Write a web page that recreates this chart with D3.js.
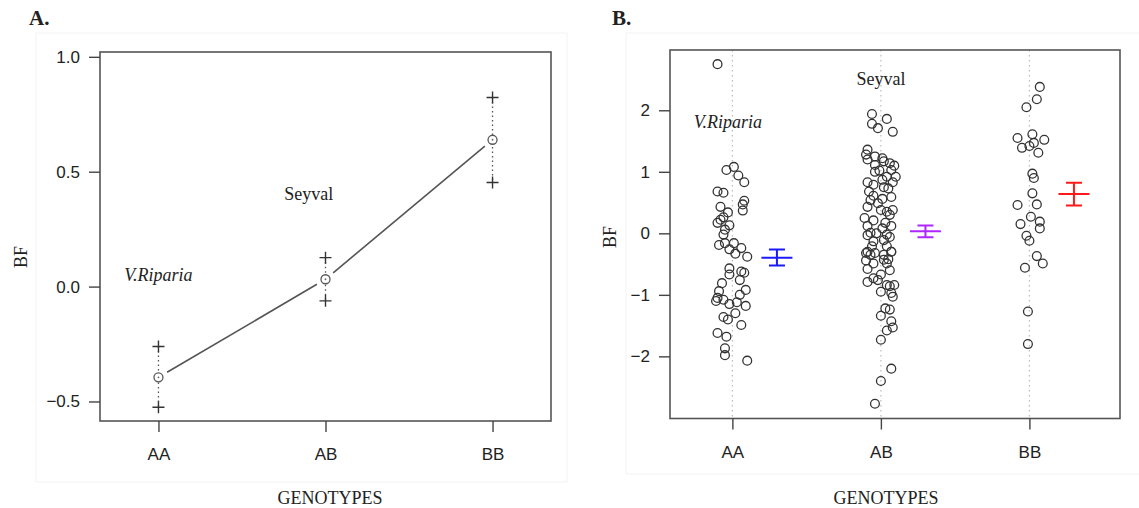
<!DOCTYPE html>
<html>
<head>
<meta charset="utf-8">
<script src="https://d3js.org/d3.v7.min.js"></script>
<style>
  body { margin: 0; background: #fff; }
  svg { display: block; }
  .tick text { font-family: "Liberation Sans", Arial, sans-serif; font-size: 17px; fill: #222; }
  .tick line { stroke: #444; stroke-width: 1.4; }
  .serif { font-family: "Liberation Serif", "Times New Roman", serif; fill: #222; }
</style>
</head>
<body>
<svg width="1139" height="508"></svg>
<script>
// genotype classes and the mean / interval
const genotypes = ["AA", "AB", "BB"];
const meanBF = [-0.395, 0.032, 0.639];
const upperBF = [-0.261, 0.126, 0.823];
const lowerBF = [-0.525, -0.062, 0.453];
const yTicksA = [-0.5, 0.0, 0.5, 1.0];
const yTicksB = [-2, -1, 0, 1, 2];
const barColors = ["#1a1aff", "#b026ff", "#ff1a1a"];

// panel B individual points: [jittered genotype position, BF]
const pointsAA = [
  [0.90, 2.75], [0.96, 1.03], [1.01, 1.08], [1.04, 0.94], [1.08, 0.83], [0.90, 0.68],
  [0.94, 0.66], [1.08, 0.53], [1.07, 0.47], [1.07, 0.37], [0.92, 0.43], [0.97, 0.34],
  [0.94, 0.26], [0.92, 0.22], [0.90, 0.17], [0.98, 0.13], [0.95, 0.06], [0.94, -0.02],
  [0.91, -0.19], [0.95, -0.16], [1.01, -0.16], [0.98, -0.26], [1.02, -0.33], [1.06, -0.24],
  [1.10, -0.38], [0.98, -0.57], [0.98, -0.67], [1.06, -0.62], [1.08, -0.64], [1.05, -0.76],
  [0.93, -0.81], [0.91, -0.94], [1.09, -0.92], [1.05, -1.00], [0.90, -1.05], [0.89, -1.10],
  [0.94, -1.08], [0.98, -1.15], [1.03, -1.12], [1.09, -1.18], [1.02, -1.30], [0.94, -1.36],
  [0.97, -1.40], [1.06, -1.49], [0.90, -1.62], [0.96, -1.68], [0.95, -1.87], [0.95, -1.98],
  [1.10, -2.07]
];
const pointsAB = [
  [1.94, 1.94], [2.04, 1.86], [1.94, 1.78], [1.98, 1.71], [2.08, 1.65],
  [1.91, 1.36], [1.90, 1.28], [1.91, 1.20], [1.96, 1.25], [2.01, 1.22], [2.02, 1.17],
  [1.96, 1.11], [2.06, 1.14], [2.09, 1.10], [2.07, 1.03], [1.96, 1.00], [1.99, 1.02],
  [2.10, 0.92], [2.04, 0.92], [2.01, 0.87], [1.91, 0.83], [1.95, 0.79], [2.08, 0.83],
  [2.05, 0.73], [2.02, 0.75], [1.92, 0.68], [1.95, 0.61], [2.07, 0.59], [2.01, 0.56],
  [1.93, 0.54], [1.98, 0.49], [1.91, 0.43], [2.08, 0.38], [2.04, 0.35], [2.06, 0.30],
  [2.00, 0.38], [1.89, 0.25], [1.95, 0.21], [2.03, 0.17], [2.07, 0.12], [1.91, 0.12],
  [2.01, 0.08], [1.93, 0.01], [1.97, 0.00], [2.04, -0.02], [1.91, -0.03], [2.06, -0.06],
  [1.95, -0.13], [2.02, -0.11], [1.94, -0.21], [2.04, -0.21], [2.07, -0.30], [1.90, -0.32],
  [1.93, -0.35], [2.02, -0.35], [2.05, -0.42], [1.91, -0.30], [1.96, -0.32], [2.07, -0.30],
  [1.90, -0.44], [1.95, -0.49], [2.02, -0.43], [2.04, -0.49], [1.91, -0.58], [2.00, -0.67],
  [2.06, -0.60], [1.95, -0.73], [1.98, -0.76], [1.91, -0.79], [2.04, -0.84], [2.06, -0.86],
  [2.09, -0.84], [2.00, -0.95], [2.08, -1.03], [2.07, -0.97], [2.03, -1.22], [2.06, -1.24],
  [2.00, -1.34], [2.07, -1.43], [2.08, -1.53], [2.04, -1.58], [2.00, -1.73], [2.07, -2.20],
  [2.00, -2.40], [1.96, -2.77]
];
const pointsBB = [
  [3.07, 2.38], [3.05, 2.18], [2.98, 2.05], [2.92, 1.55], [3.02, 1.61], [2.95, 1.39],
  [3.00, 1.42], [3.03, 1.47], [3.10, 1.52], [3.06, 1.31], [3.02, 0.97], [3.03, 0.90],
  [3.02, 0.65], [2.92, 0.46], [3.05, 0.47], [3.01, 0.27], [3.07, 0.19], [2.94, 0.15],
  [3.07, 0.08], [2.98, -0.04], [3.00, -0.12], [3.05, -0.37], [3.09, -0.49], [2.97, -0.56],
  [2.99, -1.27], [2.99, -1.80]
];

const svg = d3.select("svg");

// faint edges of the two pasted figure images
svg.append("rect").attr("x", 36).attr("y", 33).attr("width", 531).attr("height", 449)
  .style("fill", "none").style("stroke", "#f3f3f3");
svg.append("rect").attr("x", 626).attr("y", 33).attr("width", 520).attr("height", 441)
  .style("fill", "none").style("stroke", "#f3f3f3");

function frame(g, x0, y0, x1, y1) {
  g.append("rect").attr("x", x0).attr("y", y0).attr("width", x1 - x0).attr("height", y1 - y0)
    .style("fill", "none").style("stroke", "#555").style("stroke-width", 1.6);
}

function axes(g, x, y, yTicks, yFormat, bottom, left) {
  g.append("g").attr("transform", "translate(0," + bottom + ")")
    .call(d3.axisBottom(x).tickValues([1, 2, 3]).tickFormat((d, i) => genotypes[i]).tickSize(11).tickPadding(16))
    .call(a => a.select(".domain").remove());
  g.append("g").attr("transform", "translate(" + left + ",0)")
    .call(d3.axisLeft(y).tickValues(yTicks).tickFormat(yFormat).tickSize(11).tickPadding(9))
    .call(a => a.select(".domain").remove());
}

function labels(g, letter, lx, bfx, bfy, gx) {
  g.append("text").attr("class", "serif").attr("x", lx).attr("y", 25)
    .style("font-size", "21px").style("font-weight", "bold").text(letter);
  g.append("text").attr("class", "serif")
    .attr("transform", "translate(" + bfx + "," + bfy + ") rotate(-90)")
    .attr("text-anchor", "middle").style("font-size", "18px").text("BF");
  g.append("text").attr("class", "serif").attr("x", gx).attr("y", 504)
    .attr("text-anchor", "middle").style("font-size", "18px").text("GENOTYPES");
}

// ---------- panel A: means with intervals ----------
const gA = svg.append("g");
const xA = d3.scaleLinear().domain([0.65, 3.35]).range([100, 551]);
const yA = d3.scaleLinear().domain([-0.585, 1.021]).range([421, 52]);

frame(gA, 100, 52, 551, 421);
axes(gA, xA, yA, yTicksA, d3.format(".1f"), 421, 100);
labels(gA, "A.", 29, 27, 257, 330);

// connecting line with gaps round the points
for (let i = 0; i < meanBF.length - 1; i++) {
  const ax = xA(i + 1), ay = yA(meanBF[i]), bx = xA(i + 2), by = yA(meanBF[i + 1]);
  const len = Math.hypot(bx - ax, by - ay), ux = (bx - ax) / len, uy = (by - ay) / len;
  gA.append("line")
    .attr("x1", ax + ux * 10).attr("y1", ay + uy * 10)
    .attr("x2", bx - ux * 10).attr("y2", by - uy * 10)
    .style("stroke", "#555").style("stroke-width", 1.6);
}

const ciA = gA.selectAll(".ci").data(genotypes).enter().append("g");
ciA.append("line")
  .attr("x1", (d, i) => xA(i + 1)).attr("x2", (d, i) => xA(i + 1))
  .attr("y1", (d, i) => yA(upperBF[i])).attr("y2", (d, i) => yA(lowerBF[i]))
  .style("stroke", "#555").style("stroke-width", 1.3).style("stroke-dasharray", "1.5,3");
[upperBF, lowerBF].forEach(arr => {
  ciA.append("path")
    .attr("d", (d, i) => {
      const cx = xA(i + 1), cy = yA(arr[i]);
      return "M" + (cx - 6) + "," + cy + "H" + (cx + 6) + "M" + cx + "," + (cy - 6) + "V" + (cy + 6);
    })
    .style("stroke", "#333").style("stroke-width", 1.4).style("fill", "none");
});
ciA.append("circle")
  .attr("cx", (d, i) => xA(i + 1)).attr("cy", (d, i) => yA(meanBF[i])).attr("r", 4.5)
  .style("fill", "#fff").style("stroke", "#555").style("stroke-width", 1.3);
ciA.append("circle")
  .attr("cx", (d, i) => xA(i + 1)).attr("cy", (d, i) => yA(meanBF[i])).attr("r", 0.9)
  .style("fill", "#666");

gA.append("text").attr("class", "serif").attr("x", xA(1)).attr("y", yA(0.045) + 5)
  .attr("text-anchor", "middle").style("font-size", "18px").style("font-style", "italic").text("V.Riparia");
gA.append("text").attr("class", "serif").attr("x", xA(1.9)).attr("y", yA(0.40) + 5)
  .attr("text-anchor", "middle").style("font-size", "18px").text("Seyval");

// ---------- panel B: individual values ----------
const gB = svg.append("g");
const xB = d3.scaleLinear().domain([0.58, 3.61]).range([670, 1120]);
const yB = d3.scaleLinear().domain([-3.01, 2.98]).range([418.5, 50]);

gB.selectAll(".guide").data(genotypes).enter().append("line")
  .attr("x1", (d, i) => xB(i + 1)).attr("x2", (d, i) => xB(i + 1))
  .attr("y1", yB(2.98)).attr("y2", yB(-3.01))
  .style("stroke", "#bbb").style("stroke-width", 1.2).style("stroke-dasharray", "1.5,3.5");

frame(gB, 670, 50, 1120, 418.5);
axes(gB, xB, yB, yTicksB, d3.format("d"), 418.5, 670);
labels(gB, "B.", 612, 616, 237, 886);

gB.selectAll(".pt").data(pointsAA.concat(pointsAB, pointsBB)).enter().append("circle")
  .attr("cx", d => xB(d[0])).attr("cy", d => yB(d[1])).attr("r", 4.4)
  .style("fill", "none").style("stroke", "#333").style("stroke-width", 1.3);

const eb = gB.selectAll(".eb").data(genotypes).enter().append("g")
  .style("stroke", (d, i) => barColors[i]).style("stroke-width", 2).style("fill", "none");
eb.append("path").attr("d", (d, i) => {
  const cx = xB(i + 1.3), t = yB(upperBF[i]), b = yB(lowerBF[i]), m = yB(meanBF[i]);
  return "M" + cx + "," + t + "V" + b +
    "M" + (cx - 8) + "," + t + "H" + (cx + 8) +
    "M" + (cx - 8) + "," + b + "H" + (cx + 8) +
    "M" + (cx - 15.5) + "," + m + "H" + (cx + 15.5);
});

gB.append("text").attr("class", "serif").attr("x", xB(0.97)).attr("y", yB(1.8) + 5)
  .attr("text-anchor", "middle").style("font-size", "18px").style("font-style", "italic").text("V.Riparia");
gB.append("text").attr("class", "serif").attr("x", xB(2.0)).attr("y", yB(2.50) + 5)
  .attr("text-anchor", "middle").style("font-size", "18px").text("Seyval");
</script>
</body>
</html>
